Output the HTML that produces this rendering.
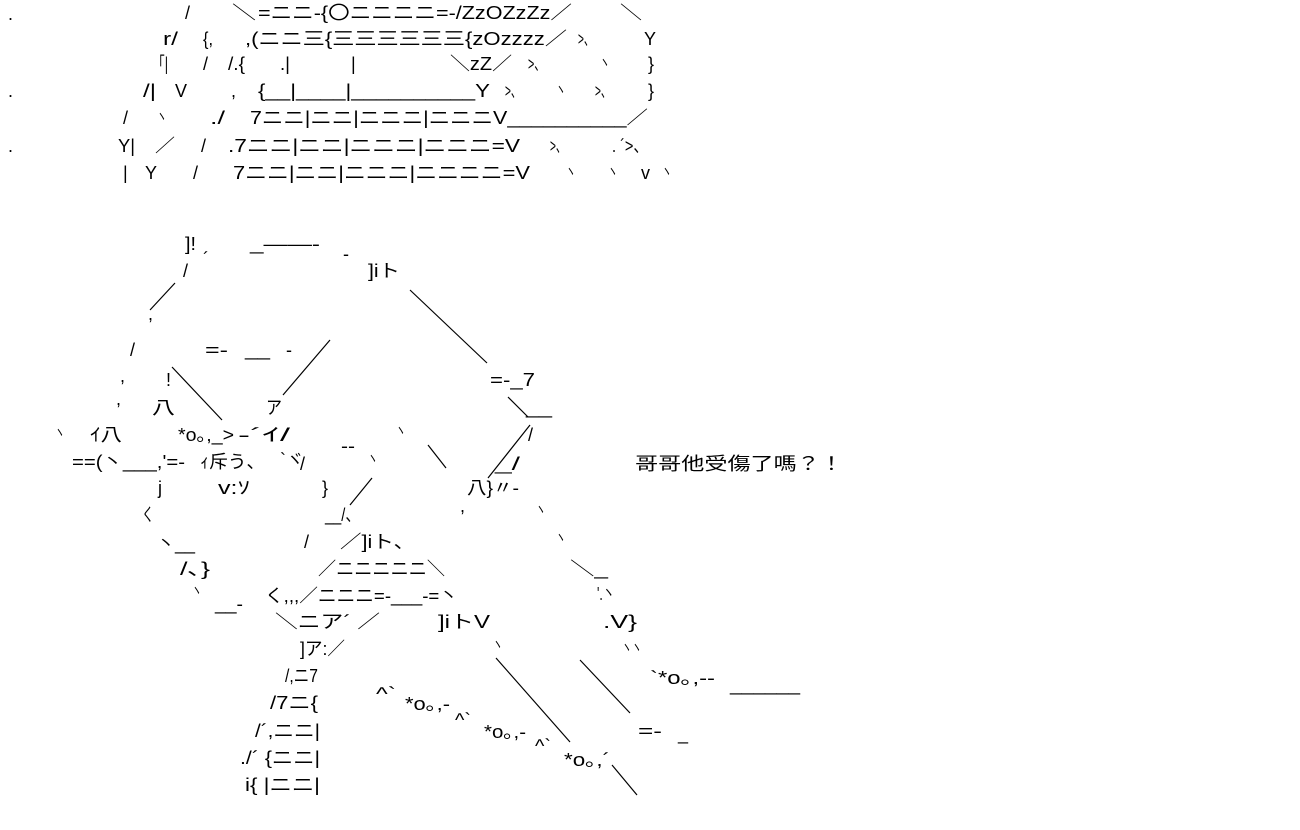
<!DOCTYPE html>
<html><head><meta charset="utf-8"><style>
html,body{margin:0;padding:0;background:#fff;width:1300px;height:830px;overflow:hidden}
svg text{font-family:"Liberation Sans","Noto Sans CJK JP",sans-serif;font-size:18px;fill:#000}
</style></head><body>
<svg width="1300" height="830" viewBox="0 0 1300 830" xmlns="http://www.w3.org/2000/svg">
<g lengthAdjust="spacingAndGlyphs">
<!-- top block -->
<text x="8" y="20" font-size="10">.</text>
<text x="8" y="97" font-size="10">.</text>
<text x="8" y="152" font-size="10">.</text>

<text x="185" y="19">/</text>
<text x="232" y="19" textLength="24" lengthAdjust="spacingAndGlyphs">＼</text>
<text x="258" y="19" textLength="314" lengthAdjust="spacingAndGlyphs">=ニニ-{〇ニニニニ=-/ZzOZzZz／</text>
<text x="620" y="19" textLength="22" lengthAdjust="spacingAndGlyphs">＼</text>

<text x="163" y="45" textLength="15" lengthAdjust="spacingAndGlyphs">r/</text>
<text x="203" y="45" textLength="10" lengthAdjust="spacingAndGlyphs">{,</text>
<text x="245" y="45" textLength="322" lengthAdjust="spacingAndGlyphs">,(ニニ三{三三三三三三{zOzzzz／</text>
<text x="578" y="45" textLength="16" lengthAdjust="spacingAndGlyphs">&gt;、</text>
<text x="644" y="45">Y</text>

<text x="152" y="70" textLength="16" lengthAdjust="spacingAndGlyphs">「|</text>
<text x="203" y="70">/</text>
<text x="228" y="70" textLength="17" lengthAdjust="spacingAndGlyphs">/.{</text>
<text x="280" y="70" textLength="10" lengthAdjust="spacingAndGlyphs">.|</text>
<text x="351" y="70">|</text>
<text x="450" y="70" textLength="62" lengthAdjust="spacingAndGlyphs">＼zZ／</text>
<text x="528" y="70" textLength="17" lengthAdjust="spacingAndGlyphs">&gt;、</text>
<text x="600" y="70" textLength="10" lengthAdjust="spacingAndGlyphs">丶</text>
<text x="648" y="70">}</text>

<text x="143" y="97" textLength="13" lengthAdjust="spacingAndGlyphs">/|</text>
<text x="175" y="97">V</text>
<text x="231" y="97">,</text>
<text x="258" y="97" textLength="232" lengthAdjust="spacingAndGlyphs">{__|____|__________Y</text>
<text x="505" y="97" textLength="16" lengthAdjust="spacingAndGlyphs">&gt;、</text>
<text x="556" y="97" textLength="10" lengthAdjust="spacingAndGlyphs">丶</text>
<text x="595" y="97" textLength="16" lengthAdjust="spacingAndGlyphs">&gt;、</text>
<text x="648" y="97">}</text>

<text x="123" y="124">/</text>
<text x="157" y="124" textLength="10" lengthAdjust="spacingAndGlyphs">丶</text>
<text x="210" y="124" textLength="15" lengthAdjust="spacingAndGlyphs">./</text>
<text x="250" y="124" textLength="398" lengthAdjust="spacingAndGlyphs">7ニニ|ニニ|ニニニ|ニニニV__________／</text>

<text x="118" y="152" textLength="17" lengthAdjust="spacingAndGlyphs">Y|</text>
<text x="155" y="152" textLength="20" lengthAdjust="spacingAndGlyphs">／</text>
<text x="201" y="152">/</text>
<text x="228" y="152" textLength="292" lengthAdjust="spacingAndGlyphs">.7ニニ|ニニ|ニニニ|ニニニ=V</text>
<text x="550" y="152" textLength="16" lengthAdjust="spacingAndGlyphs">&gt;、</text>
<text x="612" y="152" textLength="36" lengthAdjust="spacingAndGlyphs">. ´&gt;、</text>

<text x="123" y="179">|</text>
<text x="145" y="179">Y</text>
<text x="193" y="179">/</text>
<text x="233" y="179" textLength="297" lengthAdjust="spacingAndGlyphs">7ニニ|ニニ|ニニニ|ニニニニ=V</text>
<text x="566" y="179" textLength="10" lengthAdjust="spacingAndGlyphs">丶</text>
<text x="608" y="179" textLength="10" lengthAdjust="spacingAndGlyphs">丶</text>
<text x="641" y="179">v</text>
<text x="662" y="179" textLength="10" lengthAdjust="spacingAndGlyphs">丶</text>

<!-- lower figure -->
<text x="185" y="250" textLength="11" lengthAdjust="spacingAndGlyphs">]!</text>
<text x="250" y="250" textLength="70" lengthAdjust="spacingAndGlyphs">_――‐</text>
<text x="343" y="260">‐</text>
<text x="203" y="265">´</text>
<text x="183" y="277">/</text>
<text x="368" y="277" textLength="32" lengthAdjust="spacingAndGlyphs">]iト</text>
<text x="148" y="320">,</text>
<text x="130" y="356">/</text>
<text x="205" y="356" textLength="23" lengthAdjust="spacingAndGlyphs">=-</text>
<text x="245" y="356" textLength="25" lengthAdjust="spacingAndGlyphs">__</text>
<text x="286" y="356">-</text>
<text x="120" y="382">,</text>
<text x="166" y="386">!</text>
<text x="490" y="386" textLength="45" lengthAdjust="spacingAndGlyphs">=-_7</text>
<text x="116" y="405">,</text>
<text x="152" y="414" textLength="23" lengthAdjust="spacingAndGlyphs">八</text>
<text x="266" y="414" textLength="16" lengthAdjust="spacingAndGlyphs">ア</text>
<text x="526" y="414" textLength="26" lengthAdjust="spacingAndGlyphs">__</text>
<text x="55" y="440" textLength="10" lengthAdjust="spacingAndGlyphs">丶</text>
<text x="90" y="441" textLength="32" lengthAdjust="spacingAndGlyphs">ｲ八</text>
<text x="178" y="441" textLength="56" lengthAdjust="spacingAndGlyphs">*o｡,_&gt;</text>
<text x="238" y="441" textLength="52" lengthAdjust="spacingAndGlyphs">‐´ｲ/</text>
<text x="396" y="438" textLength="10" lengthAdjust="spacingAndGlyphs">丶</text>
<text x="528" y="441">/</text>
<text x="72" y="468" textLength="113" lengthAdjust="spacingAndGlyphs">==(丶___,'=-</text>
<text x="200" y="468" textLength="65" lengthAdjust="spacingAndGlyphs">ｨ斥う、</text>
<text x="280" y="466" textLength="24" lengthAdjust="spacingAndGlyphs">`ヾ</text>
<text x="300" y="470">/</text>
<text x="341" y="452" textLength="14" lengthAdjust="spacingAndGlyphs">--</text>
<text x="368" y="466" textLength="10" lengthAdjust="spacingAndGlyphs">丶</text>
<text x="495" y="470" textLength="25" lengthAdjust="spacingAndGlyphs">_/</text>
<text x="635" y="470" textLength="208" lengthAdjust="spacingAndGlyphs">哥哥他受傷了嗎？！</text>
<text x="158" y="494">j</text>
<text x="218" y="494" textLength="32" lengthAdjust="spacingAndGlyphs">v:ｿ</text>
<text x="322" y="494">}</text>
<text x="467" y="494" textLength="52" lengthAdjust="spacingAndGlyphs">八}〃-</text>
<text x="142" y="521" textLength="12" lengthAdjust="spacingAndGlyphs">く</text>
<text x="325" y="521" textLength="35" lengthAdjust="spacingAndGlyphs">__/、</text>
<text x="460" y="512">,</text>
<text x="536" y="517" textLength="10" lengthAdjust="spacingAndGlyphs">丶</text>
<text x="157" y="550" textLength="38" lengthAdjust="spacingAndGlyphs">丶__</text>
<text x="304" y="548">/</text>
<text x="340" y="548" textLength="75" lengthAdjust="spacingAndGlyphs">／]iト、</text>
<text x="556" y="545" textLength="10" lengthAdjust="spacingAndGlyphs">丶</text>
<text x="180" y="575" textLength="30" lengthAdjust="spacingAndGlyphs">/､}</text>
<text x="318" y="575" textLength="127" lengthAdjust="spacingAndGlyphs">／ニニニニニ＼</text>
<text x="570" y="575" textLength="38" lengthAdjust="spacingAndGlyphs">＼_</text>
<text x="192" y="598" textLength="10" lengthAdjust="spacingAndGlyphs">丶</text>
<text x="265" y="602" textLength="193" lengthAdjust="spacingAndGlyphs">く,,,／ニニニ=‐___‐=丶</text>
<text x="597" y="600" textLength="18" lengthAdjust="spacingAndGlyphs">'.丶</text>
<text x="215" y="610" textLength="28" lengthAdjust="spacingAndGlyphs">__-</text>
<text x="275" y="628" textLength="105" lengthAdjust="spacingAndGlyphs">＼ニア´ ／</text>
<text x="438" y="628" textLength="52" lengthAdjust="spacingAndGlyphs">]iトV</text>
<text x="603" y="628" textLength="34" lengthAdjust="spacingAndGlyphs">.V}</text>
<text x="300" y="655" textLength="45" lengthAdjust="spacingAndGlyphs">]ア:／</text>
<text x="493" y="652" textLength="10" lengthAdjust="spacingAndGlyphs">丶</text>
<text x="622" y="655" textLength="20" lengthAdjust="spacingAndGlyphs">丶丶</text>
<text x="285" y="682" textLength="33" lengthAdjust="spacingAndGlyphs">/,ニ7</text>
<text x="650" y="684" textLength="65" lengthAdjust="spacingAndGlyphs">`*o｡,--</text>
<text x="730" y="691" textLength="70" lengthAdjust="spacingAndGlyphs">______</text>
<text x="270" y="709" textLength="48" lengthAdjust="spacingAndGlyphs">/7ニ{</text>
<text x="376" y="700" textLength="20" lengthAdjust="spacingAndGlyphs">^`</text>
<text x="405" y="710" textLength="45" lengthAdjust="spacingAndGlyphs">*o｡,-</text>
<text x="455" y="726" textLength="16" lengthAdjust="spacingAndGlyphs">^`</text>
<text x="484" y="738" textLength="42" lengthAdjust="spacingAndGlyphs">*o｡,-</text>
<text x="535" y="752" textLength="16" lengthAdjust="spacingAndGlyphs">^`</text>
<text x="564" y="766" textLength="46" lengthAdjust="spacingAndGlyphs">*o｡,´</text>
<text x="255" y="737" textLength="65" lengthAdjust="spacingAndGlyphs">/´,ニニ|</text>
<text x="638" y="737" textLength="24" lengthAdjust="spacingAndGlyphs">=-</text>
<text x="678" y="740">_</text>
<text x="240" y="764" textLength="80" lengthAdjust="spacingAndGlyphs">./´ {ニニ|</text>
<text x="245" y="791" textLength="75" lengthAdjust="spacingAndGlyphs">i{  |ニニ|</text>
</g>
<g stroke="#000" stroke-width="1.2" fill="none">
<line x1="175" y1="283" x2="150" y2="310"/>
<line x1="410" y1="290" x2="487" y2="363"/>
<line x1="330" y1="340" x2="283" y2="395"/>
<line x1="172" y1="367" x2="222" y2="420"/>
<line x1="508" y1="397" x2="528" y2="417"/>
<line x1="428" y1="445" x2="446" y2="468"/>
<line x1="530" y1="425" x2="488" y2="478"/>
<line x1="372" y1="478" x2="350" y2="505"/>
<line x1="496" y1="658" x2="570" y2="742"/>
<line x1="580" y1="660" x2="630" y2="713"/>
<line x1="612" y1="765" x2="637" y2="795"/>
</g>
</svg>
</body></html>
